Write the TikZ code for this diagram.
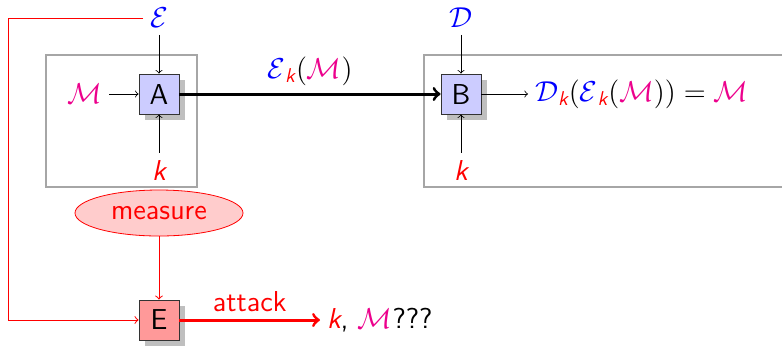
\documentclass[tikz,border=0pt]{standalone}
\usepackage{amsmath}
\usetikzlibrary{positioning,shapes.geometric,shadows}
\definecolor{msgpink}{RGB}{236,0,140}
\newcommand{\keyk}{{\color{red}\itshape k}}
\newcommand{\subk}{_{\text{\color{red}\itshape k}}}
\newcommand{\msgM}{{\color{msgpink}\mathcal{M}}}
\newcommand{\encE}{{\color{blue}\mathcal{E}}}
\newcommand{\decD}{{\color{blue}\mathcal{D}}}

\begin{document}
\begin{tikzpicture}[x=0.5pt, y=-0.5pt, font=\Large\sffamily, >=to,
		blockbox/.style={draw=black!80, fill=blue!20, minimum size=20pt, inner sep=0pt,
			drop shadow={shadow xshift=3pt, shadow yshift=-3pt, fill=gray!50, opacity=1}},
		frame/.style={draw=gray!70, line width=0.9pt},
		spyline/.style={red, line width=0.5pt}]
	\useasboundingbox (0,0) rectangle (782,345);
	\draw[frame] (46,55) rectangle (197,187);
	\draw[frame] (424,55) rectangle (800,187);
	
	\node (A) [blockbox] at (159,94) {A};
	\node (B) [blockbox] at (461,94) {B};
	\node (eve) [blockbox, fill=red!40] at (159,320) {E};
	
	\node (enc) at (159,18) {$\encE$};
	\node (msg) at (85,94) {$\msgM$};
	\node (keyA) at (159,170) {\keyk};
	\node (dec) at (461,18) {$\decD$};
	\node (keyB) at (461,170) {\keyk};
	\node (out) [anchor=west] at (528,94) {$\decD\subk(\encE\subk(\msgM))=\msgM$};
	\node (measure) [ellipse, draw=red, fill=red!20, text=red, minimum width=84pt, minimum height=23pt, inner sep=0pt] at (159,213) {measure};
	\node (guess) [anchor=west] at (320,320) {\keyk, $\msgM$???};
	\coordinate (bend) at (8,18);
	
	\draw[->, thin] (enc) -- (A);
	\draw[->, thin] (msg) -- (A);
	\draw[->, thin] (keyA) -- (A);
	\draw[->, thin] (dec) -- (B);
	\draw[->, thin] (keyB) -- (B);
	\draw[->, thin] (B) -- (out);
	\draw[->, line width=1.5pt] (A) -- node[above] {$\encE\subk(\msgM)$} (B);
	
	\draw[spyline, ->] (enc.west) -- (bend) |- (eve.west);
	\draw[spyline, ->] (measure) -- (eve);
	\draw[->, red, line width=1.5pt] (eve) -- node[above] {attack} (guess);
\end{tikzpicture}
\end{document}
